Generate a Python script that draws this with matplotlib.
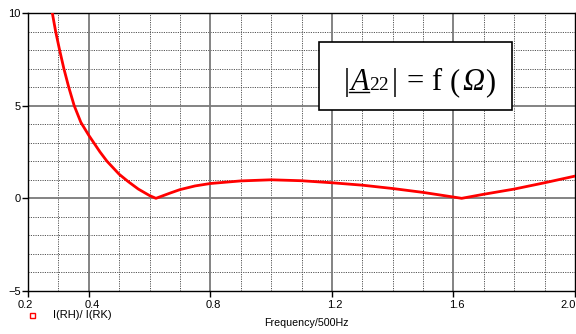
import matplotlib
matplotlib.use("Agg")
import matplotlib.pyplot as plt
import numpy as np
from matplotlib.patches import Rectangle
from matplotlib.lines import Line2D
from matplotlib.transforms import ScaledTranslation

plt.rcParams['font.family'] = ['Liberation Sans', 'DejaVu Sans']

freq = [0.280, 0.291, 0.304, 0.318, 0.334, 0.352, 0.374, 0.40, 0.437, 0.46,
        0.50, 0.53, 0.563, 0.60, 0.621, 0.667, 0.70, 0.75, 0.80, 0.90, 1.00,
        1.10, 1.20, 1.30, 1.40, 1.50, 1.60, 1.627, 1.70, 1.80, 1.90, 2.00]
ratio = [10.0, 9.0, 8.0, 7.0, 6.0, 5.0, 4.1, 3.4, 2.5, 2.0,
         1.3, 0.9, 0.5, 0.15, 0.0, 0.28, 0.47, 0.67, 0.80, 0.94, 1.0,
         0.95, 0.84, 0.71, 0.53, 0.32, 0.07, 0.0, 0.22, 0.5, 0.84, 1.2]
xticks = [0.2, 0.4, 0.8, 1.2, 1.6, 2.0]
xticklabels = ["0.2", "0.4", "0.8", "1.2", "1.6", "2.0"]
yticks = [-5, 0, 5, 10]
x_minor = [0.3, 0.5, 0.6, 0.7, 0.9, 1.0, 1.1, 1.3, 1.4, 1.5, 1.7, 1.8, 1.9]
y_minor = [-4, -3, -2, -1, 1, 2, 3, 4, 6, 7, 8, 9]
x_major = [0.4, 0.8, 1.2, 1.6]
y_major = [0, 5]
legend_label = "I(RH)/ I(RK)"
xlabel = "Frequency/500Hz"
# formula pieces: (text, style, size)
formula_parts = [("|", "normal", 22), ("A", "italic", 22), ("22", "normal", 14),
                 ("|", "normal", 22), ("=", "normal", 22), ("f", "normal", 22),
                 ("(", "normal", 22), ("Ω", "italic", 22), (")", "normal", 22)]
formula_cx = [347, 359.5, 379, 395, 415, 436.5, 455, 473, 490.5]

W, H = 576, 334
fig = plt.figure(figsize=(W/100, H/100), dpi=100)
ax = fig.add_axes([28/W, 1-291/H, 547/W, 278/H])

ax.set_xlim(0.2, 2.0)
ax.set_ylim(-5, 10)

# grid
dot = (0, (1.2, 1.2))
ax.vlines(x_minor, -5, 10, colors='#555555', linestyles=dot, linewidth=0.7,
          zorder=1)
ax.hlines(y_minor, 0.2, 2.0, colors='#555555', linestyles=dot, linewidth=0.7,
          zorder=1)
ax.vlines(x_major, -5, 10, colors='#7a7a7a', linewidth=1.3, zorder=1)
ax.hlines(y_major, 0.2, 2.0, colors='#7a7a7a', linewidth=1.3, zorder=1)

ax.plot(freq, ratio, color='#ff0000', linewidth=2.0, zorder=3, clip_on=True,
        solid_joinstyle='round')

ax.set_xticks(xticks)
ax.set_xticklabels(xticklabels)
ax.set_yticks(yticks)
ax.tick_params(which='major', direction='out', length=4.3, width=1, labelsize=8,
               colors='black', pad=2)
ax.tick_params(axis='y', pad=1)
for s in ax.spines.values():
    s.set_color('black')
    s.set_linewidth(1.0)

# shift x tick labels like reference
shifts = [-3, 3, 3, 3, 3, -7]
for lab, dx in zip(ax.get_xticklabels(), shifts):
    lab.set_transform(lab.get_transform() +
                      ScaledTranslation(dx/100, 0, fig.dpi_scale_trans))

# formula box
fig.patches.append(Rectangle((319/W, 1-110/H), 193/W, 68/H,
                             transform=fig.transFigure, facecolor='white',
                             edgecolor='black', linewidth=1.2, zorder=5))
yb = 1 - 90/H
for (txt, style, size), px in zip(formula_parts, formula_cx):
    fig.text(px/W, yb, txt, fontsize=size, fontstyle=style,
             family=['Liberation Serif', 'DejaVu Serif'],
             ha='center', va='baseline', zorder=6)
fig.add_artist(Line2D([349/W, 369/W], [1-91.8/H, 1-91.8/H],
                      transform=fig.transFigure, color='black',
                      linewidth=1.0, zorder=7))

# legend
fig.patches.append(Rectangle((30/W, 1-318/H), 5/W, 5/H,
                             transform=fig.transFigure, facecolor='white',
                             edgecolor='#ff0000', linewidth=1.0))
fig.text(53/W, 1-315/H, legend_label, fontsize=8, ha='left', va='center')
fig.text(306/W, 1-323/H, xlabel, fontsize=7.7, ha='center', va='center')

fig.savefig("out.png", dpi=100)
